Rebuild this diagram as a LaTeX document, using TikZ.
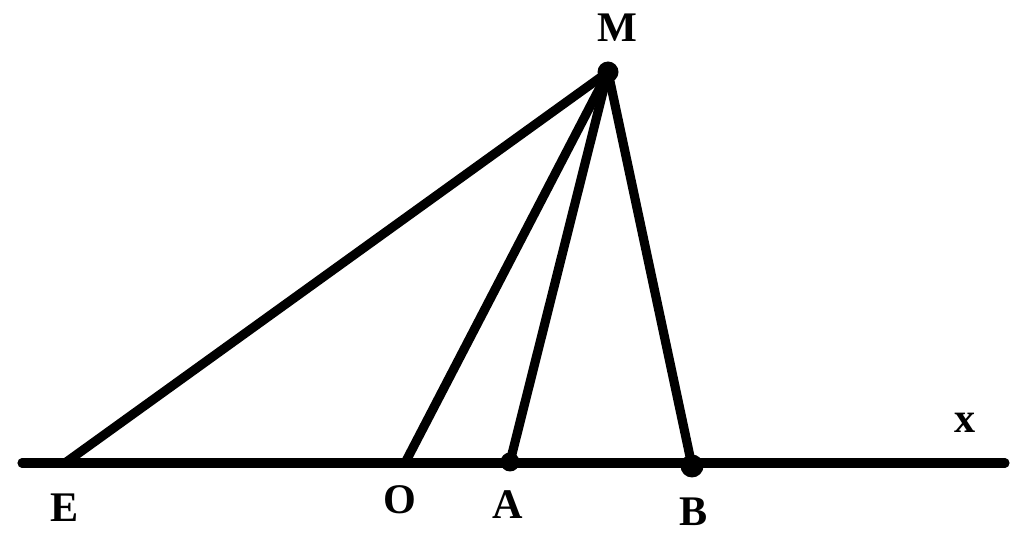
\documentclass[tikz,border=0pt]{standalone}
\usepackage{fontspec}
\setmainfont{Liberation Serif}
\usepackage{tikz}
\tikzstyle{seg} = [line width=5.2pt, line cap=round, line join=round]
\tikzstyle{dot} = [circle, fill=black, inner sep=0pt, minimum size=0.42cm]
\tikzstyle{lbl} = [inner sep=0pt, font=\fontsize{24}{26}\selectfont\bfseries]

\begin{document}
\begin{tikzpicture}[x=0.02cm, y=-0.02cm]
\useasboundingbox (0,0) rectangle (1024,560);

\coordinate (left) at (22,463);
\coordinate (right) at (1005,463);
\coordinate (M) at (608,72);
\coordinate (E) at (65,463);
\coordinate (O) at (405,463);
\coordinate (A) at (510,462);
\coordinate (B) at (692,466);

\draw [seg] (left) -- (right);
\draw [seg] (M) -- (E);
\draw [seg] (M) -- (O);
\draw [seg] (M) -- (A);
\draw [seg] (M) -- (B);

\node (dotM) [dot] at (M) {};
\node (dotA) [dot, minimum size=0.38cm] at (A) {};
\node (dotB) [dot, minimum size=0.46cm] at (B) {};

\node (lblM) [lbl] at (617,28) {M};
\node (lblE) [lbl] at (65,508) {E};
\node (lblO) [lbl] at (400,500) {O};
\node (lblA) [lbl] at (508,505) {A};
\node (lblB) [lbl] at (694,512) {B};
\node (lblx) [lbl] at (965,423) {x};

\end{tikzpicture}
\end{document}
